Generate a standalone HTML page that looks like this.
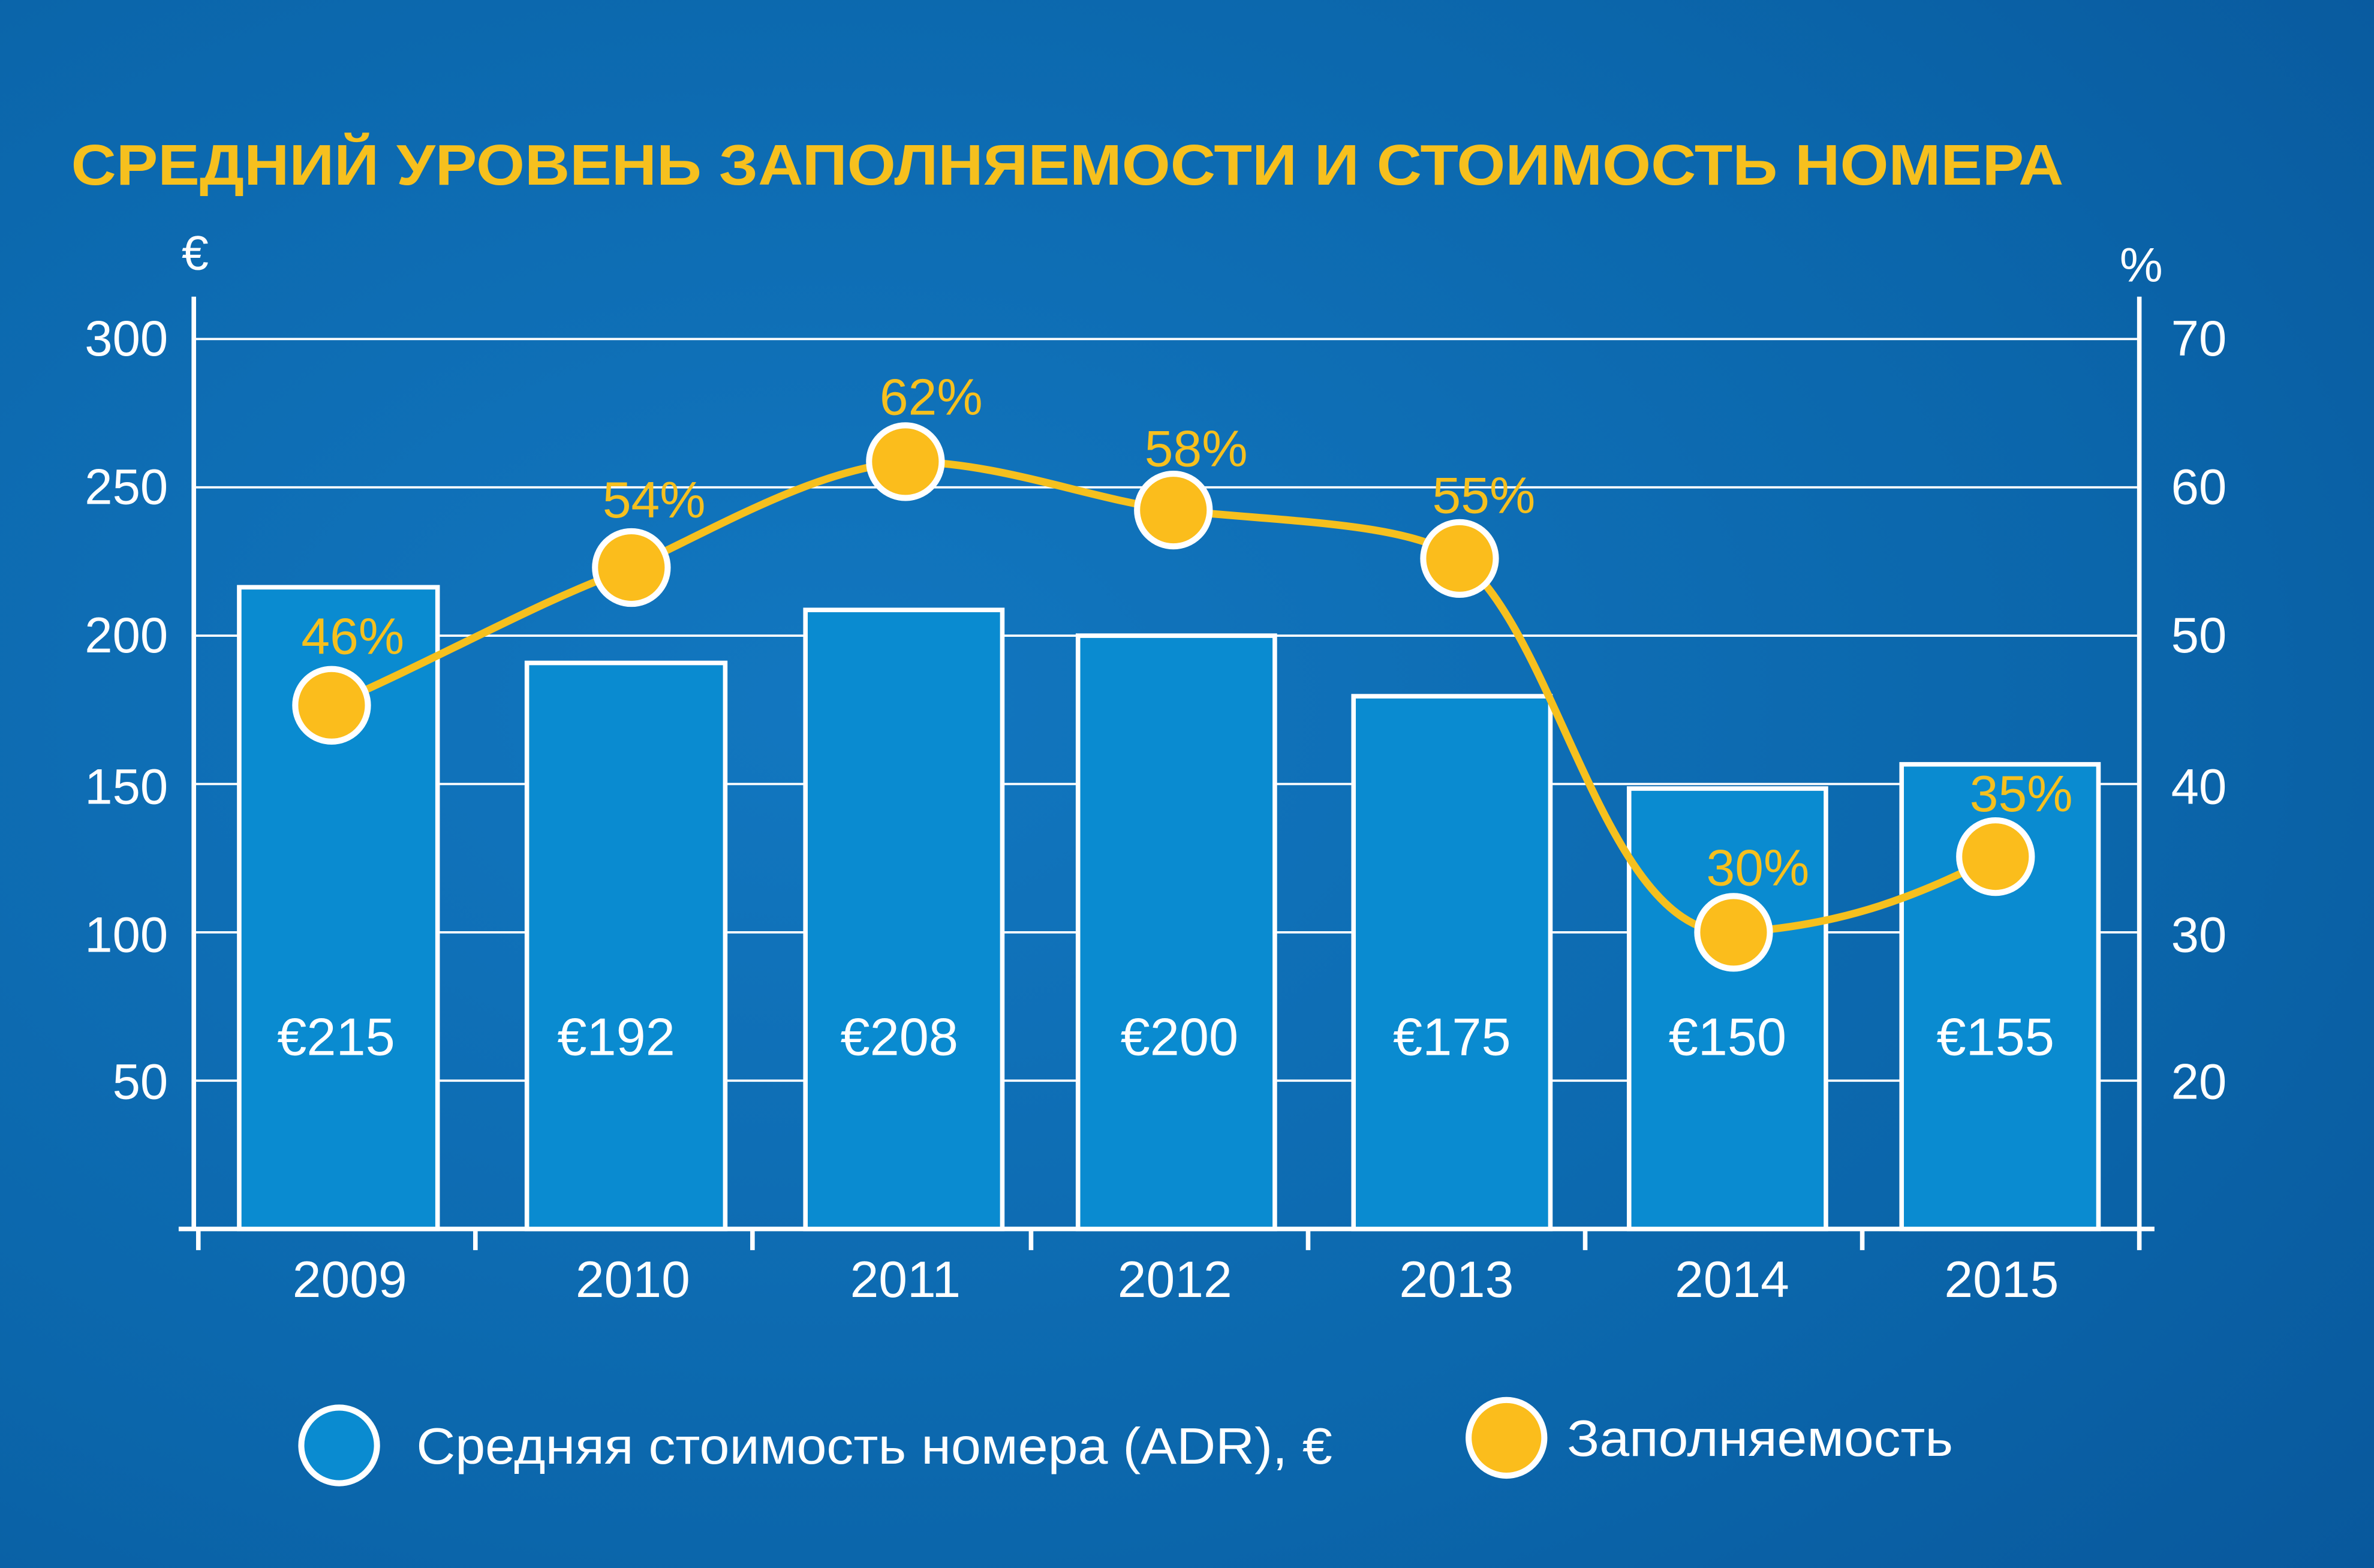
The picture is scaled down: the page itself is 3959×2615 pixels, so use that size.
<!DOCTYPE html>
<html><head><meta charset="utf-8"><style>
html,body{margin:0;padding:0;width:3959px;height:2615px;overflow:hidden;background:#0b64a8}
svg{display:block}
text{font-family:"Liberation Sans",Arial,sans-serif}
</style></head><body>
<svg width="3959" height="2615" viewBox="0 0 1568 1036" preserveAspectRatio="none" xmlns="http://www.w3.org/2000/svg">
<defs>
<radialGradient id="bg" cx="0.35" cy="0.45" r="0.9">
<stop offset="0" stop-color="#1277c0"/><stop offset="0.6" stop-color="#0b66ab"/><stop offset="1" stop-color="#08569a"/>
</radialGradient>
</defs>
<rect width="1568" height="1036" fill="url(#bg)"/>
<text x="47" y="122" font-size="38" font-weight="bold" fill="#f6c01e" textLength="1316" lengthAdjust="spacingAndGlyphs">СРЕДНИЙ УРОВЕНЬ ЗАПОЛНЯЕМОСТИ И СТОИМОСТЬ НОМЕРА</text>
<text x="120" y="178" font-size="32" fill="#fff">€</text>
<text x="1400" y="186" font-size="32" fill="#fff">%</text>
<g stroke="#fff" stroke-width="1.5">
<line x1="128" y1="224" x2="1413" y2="224"/><line x1="128" y1="322" x2="1413" y2="322"/>
<line x1="128" y1="420" x2="1413" y2="420"/><line x1="128" y1="518" x2="1413" y2="518"/>
<line x1="128" y1="616" x2="1413" y2="616"/><line x1="128" y1="714" x2="1413" y2="714"/>
</g>
<g stroke="#fff" stroke-width="3">
<line x1="128" y1="196" x2="128" y2="812"/><line x1="1413" y1="196" x2="1413" y2="812"/>
<line x1="118" y1="812" x2="1423" y2="812"/>
<line x1="131" y1="812" x2="131" y2="826"/><line x1="314" y1="812" x2="314" y2="826"/>
<line x1="497" y1="812" x2="497" y2="826"/><line x1="681" y1="812" x2="681" y2="826"/>
<line x1="864" y1="812" x2="864" y2="826"/><line x1="1047" y1="812" x2="1047" y2="826"/>
<line x1="1230" y1="812" x2="1230" y2="826"/><line x1="1413" y1="812" x2="1413" y2="826"/>
</g>
<g font-size="33" fill="#fff" text-anchor="end">
<text x="111" y="235">300</text><text x="111" y="333">250</text><text x="111" y="431">200</text>
<text x="111" y="531">150</text><text x="111" y="629">100</text><text x="111" y="726">50</text>
</g>
<g font-size="33" fill="#fff">
<text x="1434" y="235">70</text><text x="1434" y="333">60</text><text x="1434" y="431">50</text>
<text x="1434" y="531">40</text><text x="1434" y="629">30</text><text x="1434" y="726">20</text>
</g>
<g fill="#0a8bd0" stroke="#fff" stroke-width="3">
<rect x="158" y="388" width="131" height="424"/>
<rect x="348" y="438" width="131" height="374"/>
<rect x="532" y="403" width="130" height="409"/>
<rect x="712" y="420" width="130" height="392"/>
<rect x="894" y="460" width="130" height="352"/>
<rect x="1076" y="521" width="130" height="291"/>
<rect x="1256" y="505" width="130" height="307"/>
</g>
<g font-size="35" fill="#fff" text-anchor="middle">
<text x="222" y="697">€215</text><text x="407" y="697">€192</text><text x="594" y="697">€208</text>
<text x="779" y="697">€200</text><text x="959" y="697">€175</text><text x="1141" y="697">€150</text><text x="1318" y="697">€155</text>
</g>
<g font-size="34" fill="#fff" text-anchor="middle">
<text x="231" y="857">2009</text><text x="418" y="857">2010</text><text x="598" y="857">2011</text>
<text x="776" y="857">2012</text><text x="962" y="857">2013</text><text x="1144" y="857">2014</text><text x="1322" y="857">2015</text>
</g>
<path d="M219,466 C300,430 350,400 417,375 C480,345 540,310 598,305 C660,305 720,330 775,337 C850,345 930,345 964,369 C1030,420 1060,620 1145,616 C1220,612 1270,590 1318,566" fill="none" stroke="#f6c01e" stroke-width="5"/>
<g fill="#fbbd1c" stroke="#fff" stroke-width="4">
<circle cx="219" cy="466" r="24"/><circle cx="417" cy="375" r="24"/><circle cx="598" cy="305" r="24"/>
<circle cx="775" cy="337" r="24"/><circle cx="964" cy="369" r="24"/><circle cx="1145" cy="616" r="24"/><circle cx="1318" cy="566" r="24"/>
</g>
<g font-size="34" fill="#f6c01e" text-anchor="middle">
<text x="233" y="432">46%</text><text x="432" y="342">54%</text><text x="615" y="274">62%</text>
<text x="790" y="308">58%</text><text x="980" y="339">55%</text><text x="1161" y="585">30%</text><text x="1335" y="536">35%</text>
</g>
<circle cx="224" cy="955" r="25" fill="#0a8bd0" stroke="#fff" stroke-width="4"/>
<text x="275" y="967" font-size="34" fill="#fff" textLength="605" lengthAdjust="spacingAndGlyphs">Средняя стоимость номера (ADR), €</text>
<circle cx="995" cy="950" r="25" fill="#fbbd1c" stroke="#fff" stroke-width="4"/>
<text x="1035" y="962" font-size="34" fill="#fff" textLength="255" lengthAdjust="spacingAndGlyphs">Заполняемость</text>
</svg>
</body></html>
